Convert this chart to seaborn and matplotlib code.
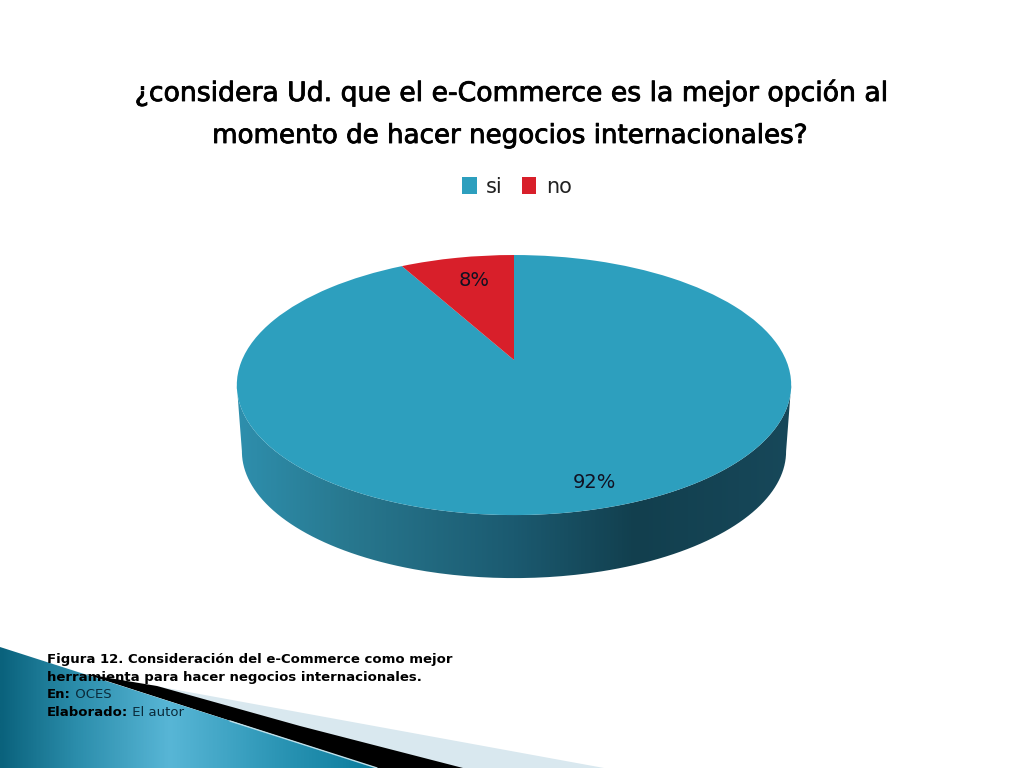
import numpy as np
import matplotlib
matplotlib.use('Agg')
import matplotlib.pyplot as plt
import matplotlib.patheffects as pe
import seaborn as sns
from matplotlib.colors import LinearSegmentedColormap
from matplotlib.path import Path
from matplotlib.patches import PathPatch, Polygon
from matplotlib.transforms import Transform

# Data
categories = ['si', 'no']
values = [92, 8]
pct_labels = ['92%', '8%']
colors = ['#2d9fbe', '#d81f2a']

title_lines = ['¿considera Ud. que el e-Commerce es la mejor opción al',
               'momento de hacer negocios internacionales?']
caption_bold = ['Figura 12. Consideración del e-Commerce como mejor',
                'herramienta para hacer negocios internacionales.']

sns.set_theme(style='white')
sns.set_palette(colors)
plt.rcParams['font.family'] = ['DejaVu Sans']


class Tilted(Transform):
    # lays the flat pie down with a bit of perspective, in pixels of the slide
    input_dims = 2
    output_dims = 2

    def __init__(self, cx, cy, a, b, k):
        super().__init__()
        self.cx, self.cy, self.a, self.b, self.k = cx, cy, a, b, k

    def transform_non_affine(self, values):
        values = np.asarray(values)
        w = 1 + self.k * values[:, 1]
        return np.column_stack([self.cx + self.a * values[:, 0] / w,
                                self.cy - self.b * values[:, 1] / w])


def gradient(ax, x0, x1, y0, y1, stops, clip):
    cmap = LinearSegmentedColormap.from_list('g', stops)
    im = ax.imshow(np.linspace(0, 1, 400).reshape(1, -1), cmap=cmap, aspect='auto',
                   extent=(x0, x1, y1, y0), zorder=clip.get_zorder())
    im.set_clip_path(clip)


fig, ax = plt.subplots(figsize=(10.24, 7.68), dpi=100)
ax.set_position([0, 0, 1, 1])

# slide decoration, bottom left
light = Polygon([(150, 685), (604, 768), (377, 768)], closed=True, fc='#d9e8ef', ec='none', zorder=1)
black = Polygon([(85, 674), (157, 686), (300, 726), (463, 768), (377, 768)], closed=True,
                fc='black', ec='none', zorder=1.1)
blue = Polygon([(0, 647), (377, 768), (0, 768)], closed=True, fc='none', ec='none',
               transform=ax.transData, zorder=1.2)
ax.add_patch(light)
ax.add_patch(black)
ax.add_patch(blue)
gradient(ax, 0, 377, 647, 768,
         [(0, '#0a627c'), (0.2, '#2b8dab'), (0.45, '#58b6d6'), (0.75, '#2a94b4'), (1, '#0b7b9b')], blue)
ax.plot([230, 377], [721, 768], color='#bfe0ea', lw=1, zorder=1.3)

# pie top
top = Tilted(514, 360, 272, 125.2, 0.1926)
wedges, _ = ax.pie(values, labels=categories, labeldistance=None, colors=colors, startangle=90,
                   counterclock=False, radius=1, wedgeprops={'linewidth': 0, 'zorder': 3})
for w in wedges:
    w.set_transform(top + ax.transData)

# pie side, from the front half of the rim down to a slightly smaller rim
theta = np.radians(np.linspace(191, 349, 200))
rim = np.column_stack([np.cos(theta), np.sin(theta)])
upper = top.transform_non_affine(rim)
lower = Tilted(514, 427, 267, 122, 0.1926).transform_non_affine(rim)
wall = np.vstack([upper, lower[::-1], upper[:1]])
side = PathPatch(Path(wall), fc='none', ec='none', transform=ax.transData, zorder=2)
ax.add_patch(side)
gradient(ax, 236, 792, 380, 580,
         [(0, '#2e8fad'), (0.2, '#28788f'), (0.5, '#1b5a70'), (0.72, '#123f4e'), (1, '#17485a')], side)

ax.set_aspect('auto')
ax.set_xlim(0, 1024)
ax.set_ylim(768, 0)
ax.axis('off')

# texts
heavier = [pe.withStroke(linewidth=0.6, foreground='black')]
ax.text(511, 93, title_lines[0], ha='center', va='center', fontsize=19.2, color='black', zorder=5,
        path_effects=heavier)
ax.text(511, 136, title_lines[1], ha='center', va='center', fontsize=18.8, color='black', zorder=5,
        path_effects=heavier)
ax.text(474, 281, pct_labels[1], ha='center', va='center', fontsize=14, color='#111122', zorder=5)
ax.text(594, 483, pct_labels[0], ha='center', va='center', fontsize=14, color='#111122', zorder=5)
ax.legend(wedges, categories, ncol=2, frameon=False, loc='center', bbox_to_anchor=(517 / 1024, 1 - 187 / 768),
          fontsize=15, handlelength=0.7, handleheight=0.9, handletextpad=0.45, columnspacing=0.9,
          labelcolor='#222222')

for i, line in enumerate(caption_bold):
    ax.text(47, 660 + i * 17.5, line, ha='left', va='center', fontsize=9.5, fontweight='bold',
            color='black', zorder=5)
en = ax.text(47, 695, 'En:', ha='left', va='center', fontsize=9.5, fontweight='bold', color='black', zorder=5)
ax.annotate(' OCES', xy=(1, 0), xycoords=en, va='bottom', fontsize=9.5, color='#0a2a3a', zorder=5)
el = ax.text(47, 713, 'Elaborado:', ha='left', va='center', fontsize=9.5, fontweight='bold', color='black', zorder=5)
ax.annotate(' El autor', xy=(1, 0), xycoords=el, va='bottom', fontsize=9.5, color='#0a2a3a', zorder=5)

plt.savefig('out.png', dpi=100)
plt.close()
